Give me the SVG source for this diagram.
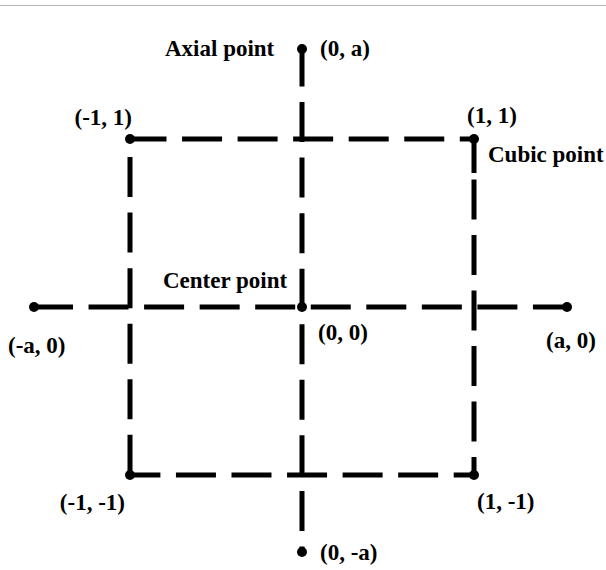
<svg xmlns="http://www.w3.org/2000/svg" width="606" height="570" viewBox="0 0 606 570">
<style>
.ln{stroke:#000;stroke-width:5;fill:none;stroke-dasharray:40 15.55}
.dot{fill:#000}
text{font-family:"Liberation Serif","Times New Roman",serif;font-weight:bold;font-size:23px;fill:#000}
</style>
<rect width="606" height="570" fill="#fff"/>
<line x1="0" y1="5.5" x2="606" y2="5.5" stroke="#b4b4b4" stroke-width="1"/>
<g id="connectors">
<line class="ln" x1="302" y1="48" x2="302" y2="552" stroke-dashoffset="1.5"/>
<line class="ln" x1="33" y1="307" x2="568" y2="307" stroke-dashoffset="0"/>
<line class="ln" x1="130" y1="139" x2="474" y2="139" stroke-dashoffset="3.5"/>
<line class="ln" x1="130" y1="475" x2="474" y2="475" stroke-dashoffset="9.6"/>
<line class="ln" x1="130" y1="139" x2="130" y2="475" stroke-dashoffset="37.5"/>
<line class="ln" x1="474" y1="139" x2="474" y2="475" style="stroke-dasharray:34 6.5 40 15.5 40 15.5 40 15.5 40 15.5 40 15.5 40 15.5"/>
</g>
<g id="axial-top"><circle class="dot" cx="302" cy="49" r="5"/><text x="165" y="56">Axial point</text><text x="320" y="56">(0, a)</text></g>
<g id="axial-bottom"><circle class="dot" cx="302" cy="552" r="5"/><text x="320" y="560">(0, -a)</text></g>
<g id="axial-left"><circle class="dot" cx="34" cy="307" r="5"/><text x="8" y="353">(-a, 0)</text></g>
<g id="axial-right"><circle class="dot" cx="567" cy="307" r="5"/><text x="546" y="348">(a, 0)</text></g>
<g id="center"><circle class="dot" cx="302" cy="307" r="5"/><text x="163" y="288">Center point</text><text x="318" y="340">(0, 0)</text></g>
<g id="cube-tl"><circle class="dot" cx="130" cy="139" r="5"/><text x="132" y="125" text-anchor="end">(-1, 1)</text></g>
<g id="cube-tr"><circle class="dot" cx="474" cy="139" r="5"/><text x="467" y="123">(1, 1)</text><text x="488" y="162">Cubic point</text></g>
<g id="cube-bl"><circle class="dot" cx="130" cy="475" r="5"/><text x="125" y="510" text-anchor="end">(-1, -1)</text></g>
<g id="cube-br"><circle class="dot" cx="474" cy="475" r="5"/><text x="477" y="509">(1, -1)</text></g>
</svg>
